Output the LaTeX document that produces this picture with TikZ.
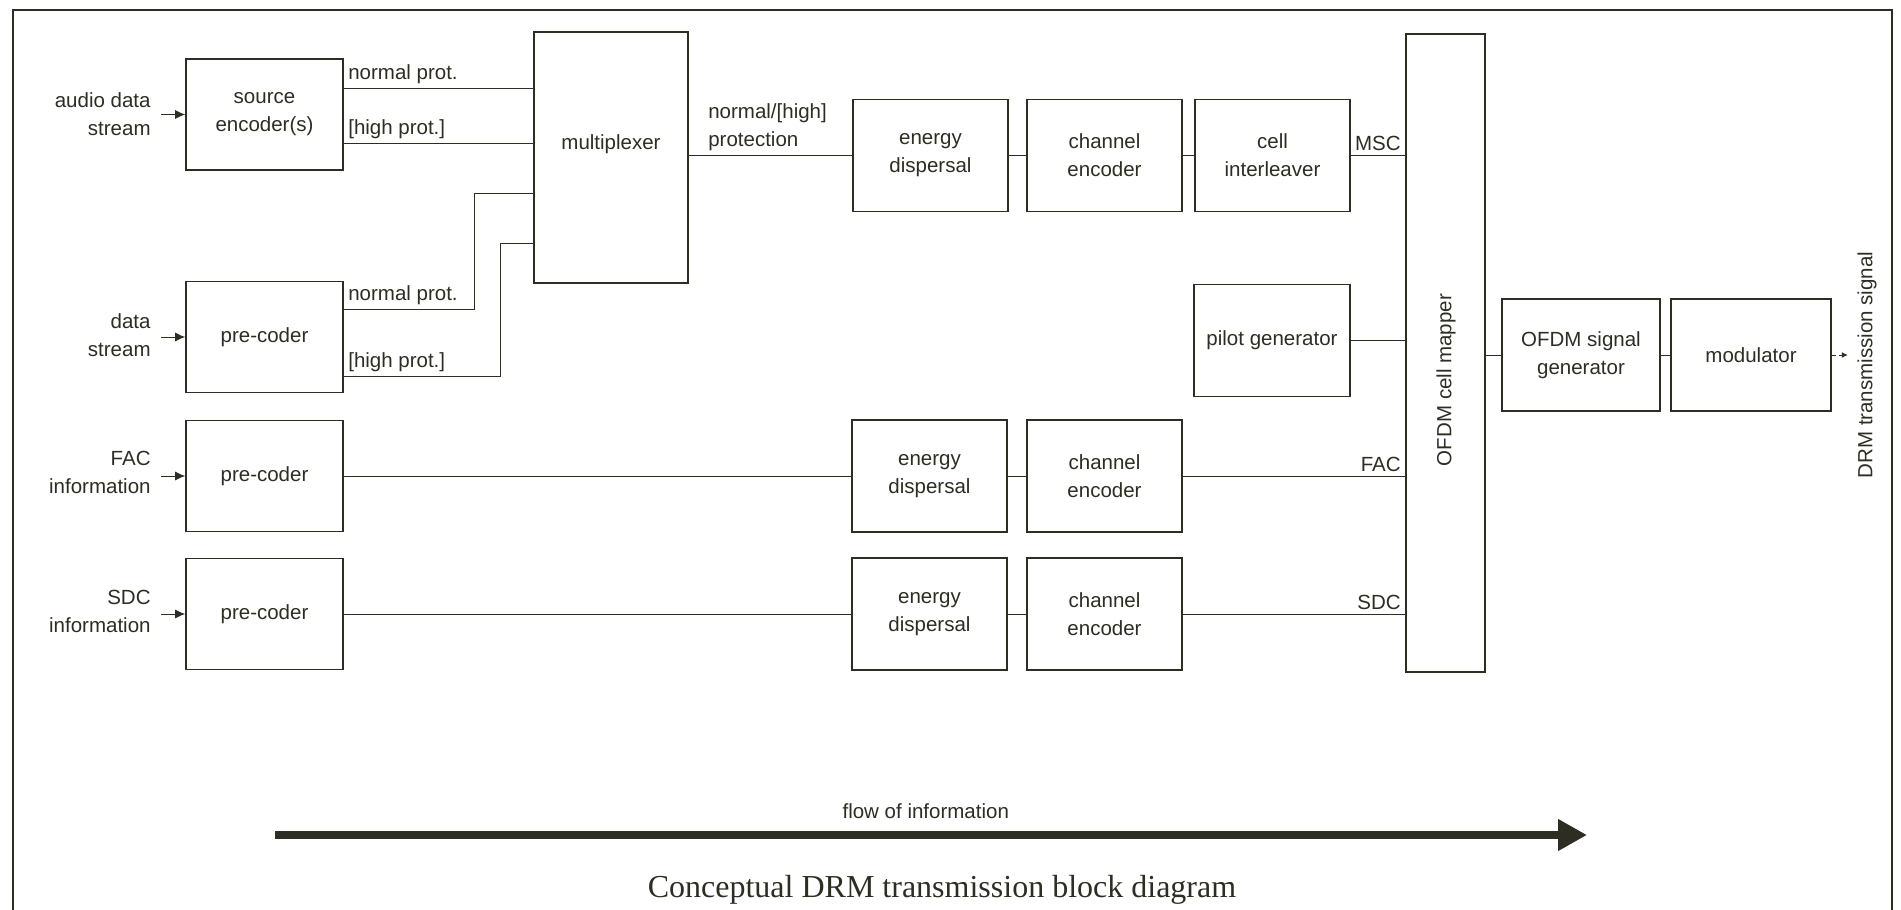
\documentclass[tikz,border=0pt]{standalone}
\usepackage{fontspec}
\setmainfont{Liberation Sans}
\newfontfamily\captionfont{Liberation Serif}
\usetikzlibrary{arrows.meta}
\definecolor{ink}{RGB}{45,45,35}
\tikzset{
  blk/.style={draw=ink, line width=0.8pt, inner sep=0pt, align=center, minimum width=77.5pt, minimum height=56pt},
  lbl/.style={inner sep=2pt},
  wire/.style={draw=ink, line width=0.5pt},
  feed/.style={wire, -{Latex[length=5pt,width=4.5pt]}, shorten <=3pt},
}

\begin{document}
\begin{tikzpicture}[x=0.5pt, y=-0.5pt, every node/.style={font=\fontsize{10.25}{14}\selectfont, text=ink}]
            \useasboundingbox (0,0) rectangle (1901,910);
            \draw[ink, line width=1.3pt] (13,910) -- (13,10) -- (1892,10) -- (1892,910);

            \node[blk, minimum width=78.5pt, minimum height=55.5pt] (src) at (264.5,114.5) {source\\encoder(s)};
            \node[blk, minimum width=78.5pt, minimum height=55.5pt] (pre1) at (264.5,337) {pre-coder};
            \node[blk, minimum width=78.5pt, minimum height=55.5pt] (pre2) at (264.5,476) {pre-coder};
            \node[blk, minimum width=78.5pt, minimum height=55.5pt] (pre3) at (264.5,614) {pre-coder};
            \node[lbl, align=right, anchor=east] (inA) at (155,114) {audio data\\stream};
            \node[lbl, align=right, anchor=east] (inD) at (155,335) {data\\stream};
            \node[lbl, align=right, anchor=east] (inF) at (155,472) {FAC\\information};
            \node[lbl, align=right, anchor=east] (inS) at (155,611) {SDC\\information};

            \node[blk, minimum width=77pt, minimum height=125.5pt] (mux) at (611,157.5) {};
            \node[lbl] (muxtxt) at (611,144) {multiplexer};

            \node[blk] (ed1) at (930.5,155.5) {energy\\dispersal};
            \node[blk] (ce1) at (1104.5,155.5) {channel\\encoder};
            \node[blk] (ci) at (1272.5,155.5) {cell\\interleaver};
            \node[blk, minimum width=78pt] (pilot) at (1272,340.5) {pilot generator};
            \node[blk] (ed2) at (929.5,476) {energy\\dispersal};
            \node[blk] (ce2) at (1104.5,476) {channel\\encoder};
            \node[blk] (ed3) at (929.5,614) {energy\\dispersal};
            \node[blk] (ce3) at (1104.5,614) {channel\\encoder};

            \node[blk, minimum width=39.5pt, minimum height=319pt] (mapper) at (1445.5,353) {};
            \node[lbl, rotate=90] (maptxt) at (1446,380) {OFDM cell mapper};
            \node[blk, minimum width=79pt] (gen) at (1581,355) {OFDM signal\\generator};
            \node[blk, minimum width=80pt] (mod) at (1751,355) {modulator};
            \node[lbl, rotate=90] (drm) at (1867,365) {DRM transmission signal};

            \draw[feed] (inA.east |- src.west) -- (src.west);
            \draw[feed] (inD.east |- pre1.west) -- (pre1.west);
            \draw[feed] (inF.east |- pre2.west) -- (pre2.west);
            \draw[feed] (inS.east |- pre3.west) -- (pre3.west);

            \coordinate (srcN) at ([yshift=13.25pt]src.east);
            \coordinate (srcH) at ([yshift=-14.25pt]src.east);
            \coordinate (datN) at ([yshift=14pt]pre1.east);
            \coordinate (datH) at ([yshift=-19.5pt]pre1.east);
            \coordinate (muxN) at ([yshift=-17.75pt]mux.west);
            \coordinate (muxH) at ([yshift=-42.75pt]mux.west);
            \draw[wire] (srcN) node[lbl, above right] {normal prot.} -- (srcN -| mux.west);
            \draw[wire] (srcH) node[lbl, above right] {[high prot.]} -- (srcH -| mux.west);
            \draw[wire] (datN) node[lbl, above right] {normal prot.} -- ++(131,0) |- (muxN);
            \draw[wire] (datH) node[lbl, above right] {[high prot.]} -- ++(157,0) |- (muxH);

            \draw[wire] (ed1.west -| mux.east) node[lbl, above right, align=left, xshift=7.5pt] {normal/[high]\\protection} -- (ed1.west);
            \draw[wire] (ed1) -- (ce1) -- (ci);
            \draw[wire] (ci.east) -- (ci.east -| mapper.west) node[lbl, above left] {MSC};
            \draw[wire] (pilot.east) -- (pilot.east -| mapper.west);
            \draw[wire] (pre2) -- (ed2) -- (ce2);
            \draw[wire] (ce2.east) -- (ce2.east -| mapper.west) node[lbl, above left] {FAC};
            \draw[wire] (pre3) -- (ed3) -- (ce3);
            \draw[wire] (ce3.east) -- (ce3.east -| mapper.west) node[lbl, above left] {SDC};
            \draw[wire] (mapper.east |- gen.west) -- (gen.west);
            \draw[wire] (gen) -- (mod);
            \coordinate (sigtip) at ([xshift=8pt]mod.east);
            \draw[wire, dash pattern=on 2pt off 1.5pt, -{Latex[length=3pt,width=3pt]}] (mod.east) -- (sigtip);

            \coordinate (flowS) at (275,835);
            \coordinate (flowE) at (1587,835);
            \draw[ink, line width=4pt, -{Triangle[length=14.5pt,width=15pt]}] (flowS) -- (flowE) node[lbl, pos=0.496, above=4pt] {flow of information};
            \node[font=\captionfont\fontsize{16}{19}\selectfont] (title) at (942,890) {Conceptual DRM transmission block diagram};
        \end{tikzpicture}
\end{document}
